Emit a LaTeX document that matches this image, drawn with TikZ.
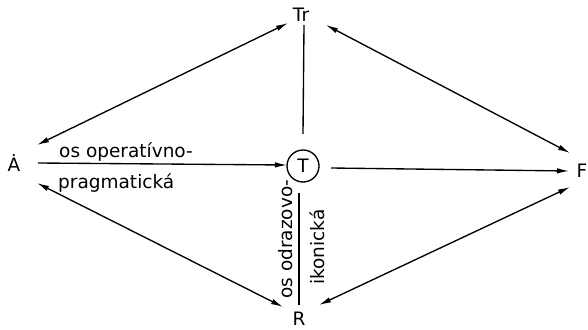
\documentclass[tikz,border=0pt]{standalone}
\usepackage{fontspec}
\setmainfont{DejaVu Sans}
\usetikzlibrary{arrows.meta}
\begin{document}
\begin{tikzpicture}[x=1pt,y=-1pt,
  lbl/.style={font=\fontsize{18.5}{22}\selectfont, inner sep=0pt},
  conn/.style={line width=1.35pt},
  tip/.style={-{Latex[length=12pt,width=5.5pt]}},
  dtip/.style={{Latex[length=12pt,width=5.5pt]}-{Latex[length=12pt,width=5.5pt]}}]
\useasboundingbox (0,0) rectangle (588,329);
% nodes
\node[lbl] (Tr) at (301,15) {Tr};
\node[lbl] (A) at (14,163) {\.{A}};
\node[lbl, draw, circle, line width=1.35pt, minimum size=32pt] (T) at (303,166) {T};
\node[lbl] (F) at (582,171) {F};
\node[lbl] (R) at (299,319) {R};
% endpoints
\coordinate (trA) at (288,23);
\coordinate (aTr) at (37,145);
\coordinate (trF) at (326,25);
\coordinate (fTr) at (570,153);
\coordinate (aT) at (38,163);
\coordinate (tA) at (287,165);
\coordinate (tF) at (331,168);
\coordinate (fT) at (569,171);
\coordinate (aR) at (37,183);
\coordinate (rA) at (283,307);
\coordinate (fR) at (570,187);
\coordinate (rF) at (319,305);
\coordinate (trT) at (304,25);
\coordinate (tTr) at (303,134);
\coordinate (tR) at (299,193);
\coordinate (rT) at (299,305);
% connectors
\draw[conn,dtip] (aTr) -- (trA);
\draw[conn,dtip] (trF) -- (fTr);
\draw[conn,tip] (aT) -- (tA);
\draw[conn,tip] (tF) -- (fT);
\draw[conn,dtip] (aR) -- (rA);
\draw[conn,dtip] (fR) -- (rF);
\draw[conn] (trT) -- (tTr);
\draw[conn] (tR) -- (rT);
% labels
\node[lbl, anchor=base west] (l1) at (59,157) {os operatívno-};
\node[lbl, anchor=base west] (l2) at (58,188) {pragmatická};
\node[lbl, rotate=90] (l3) at (286,239) {os odrazovo-};
\node[lbl, rotate=90] (l4) at (317,247) {ikonická};
\end{tikzpicture}
\end{document}
